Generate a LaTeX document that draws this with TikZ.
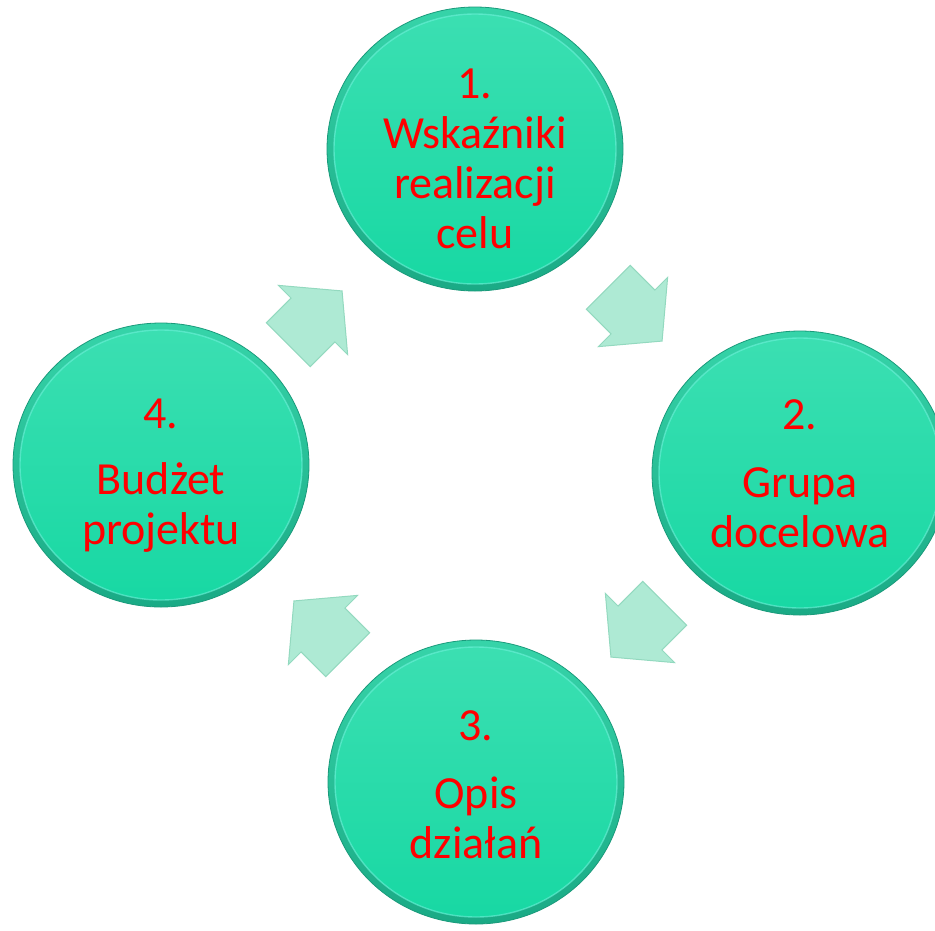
\documentclass[tikz,border=0pt]{standalone}
\usepackage{fontspec}
\setmainfont{Carlito}
\usetikzlibrary{shapes.geometric,shapes.arrows}

\definecolor{ringtop}{HTML}{36D4A9}
\definecolor{ringbottom}{HTML}{1AAA85}
\definecolor{edgeteal}{HTML}{1A9A7B}
\definecolor{balltop}{HTML}{3CDFB2}
\definecolor{ballbottom}{HTML}{17D8A3}
\definecolor{glowcyan}{HTML}{6FF2DA}
\definecolor{arrowmint}{HTML}{AEEAD4}
\definecolor{arrowedge}{HTML}{93D9BF}

\tikzset{
  ball/.style={ellipse, minimum width=296pt, minimum height=284pt, inner sep=0pt,
    draw=edgeteal, line width=0.8pt, top color=ringtop, bottom color=ringbottom,
    path picture={
      \shade[top color=balltop, bottom color=ballbottom]
        (path picture bounding box.center) ellipse (141pt and 135pt);
      \draw[glowcyan, line width=1.4pt, opacity=0.6]
        (path picture bounding box.center) ellipse (141pt and 135pt);
    }},
  txt/.style={align=center, text=red, font=\fontsize{46}{50}\selectfont, inner sep=0pt},
  blockarrow/.style={single arrow, single arrow head extend=18pt, single arrow tip angle=100,
    minimum height=76pt, minimum width=97pt, inner xsep=0pt, inner ysep=30.5pt,
    fill=arrowmint, draw=arrowedge, line width=1pt}
}

\begin{document}
\begin{tikzpicture}[x=1pt,y=-1pt]

\useasboundingbox (0,0) rectangle (935,930);
\clip (0,0) rectangle (935,930);

% circles
\node [ball] (c1) at (475,149) {};
\node [ball] (c2) at (800,473) {};
\node [ball] (c3) at (476,782) {};
\node [ball] (c4) at (161,465) {};

% texts
\node [txt] (t1) at (475,159) {1.\\Wskaźniki\\realizacji\\celu};
\node [txt] (t2) at (800,474) {2.\\[18pt]Grupa\\docelowa};
\node [txt] (t3) at (476,785) {3.\\[18pt]Opis\\działań};
\node [txt] (t4) at (161,476) {4.\\[16pt]Budżet\\projektu};

% arrows between the circles
\node [blockarrow, rotate=-45] (a12) at (626,305) {};
\node [blockarrow, rotate=-135] (a23) at (647,621) {};
\node [blockarrow, rotate=135] (a34) at (330,637) {};
\node [blockarrow, rotate=45] (a41) at (306,327) {};

\end{tikzpicture}
\end{document}
